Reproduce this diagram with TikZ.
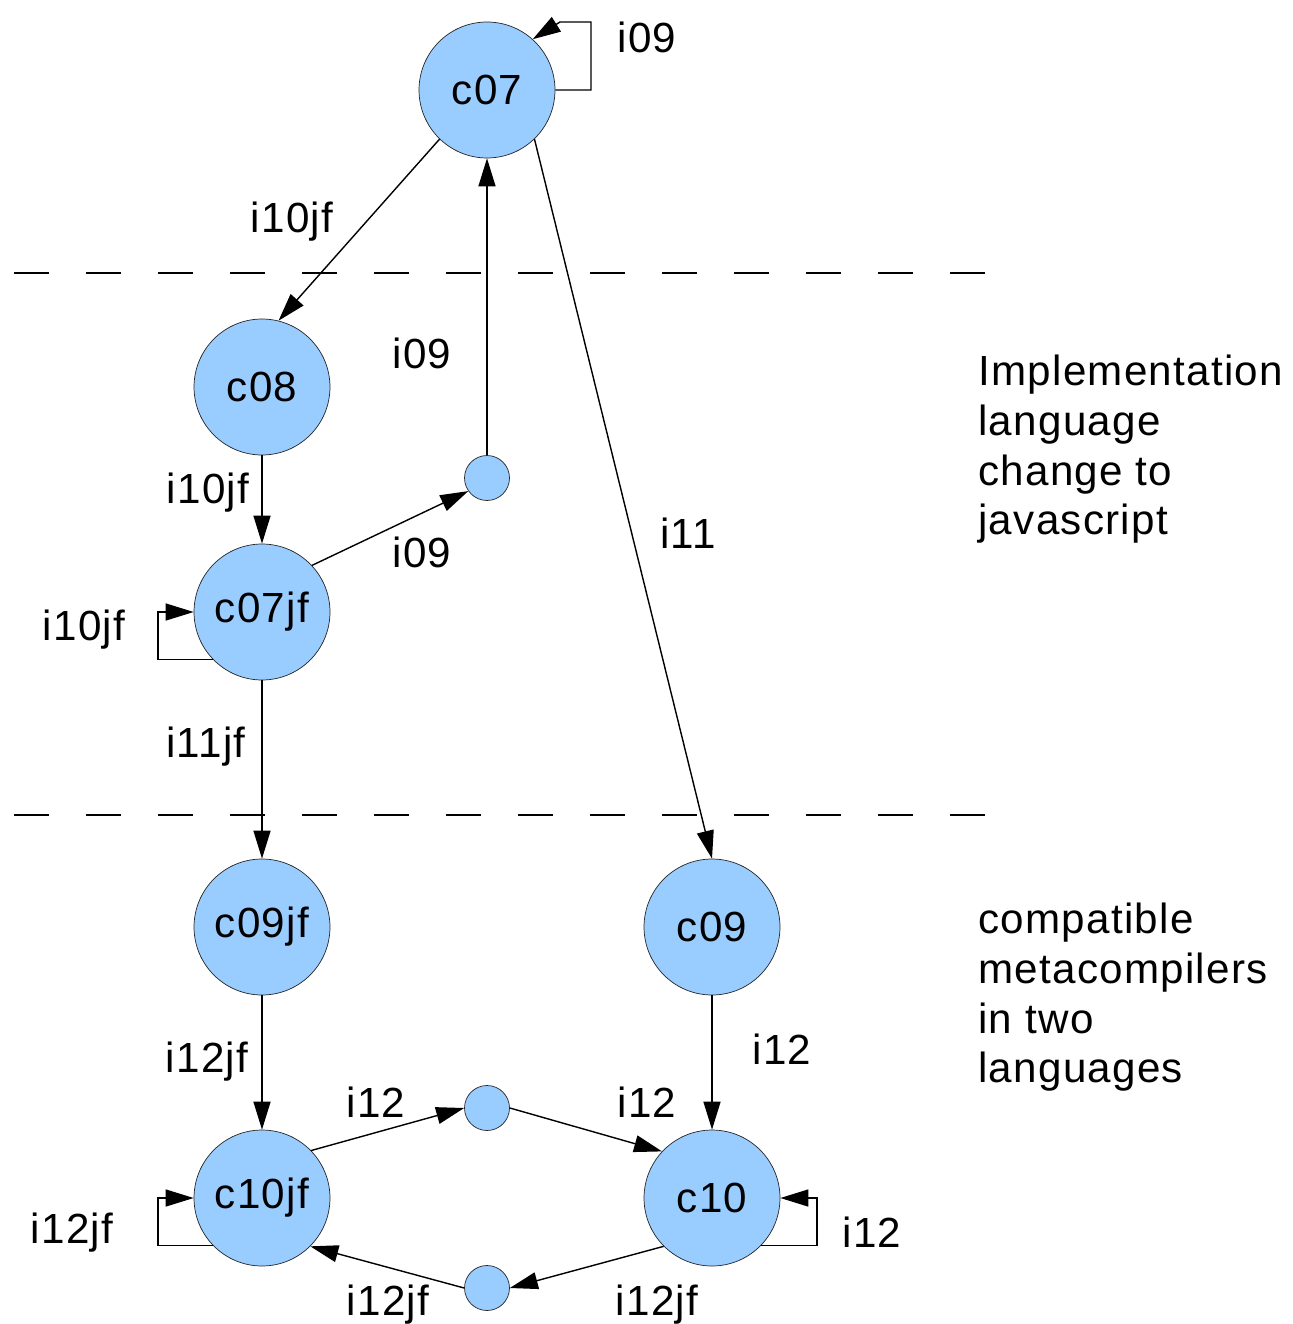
\documentclass[tikz,border=0pt]{standalone}
\usepackage{fontspec}
\setmainfont[LetterSpace=3]{Liberation Sans}
\usepackage{tikz}
\usetikzlibrary{arrows.meta}

\definecolor{stateblue}{HTML}{99CCFF}
\tikzset{
  state/.style={circle, draw=black!85, fill=stateblue, minimum size=2.72cm, inner sep=0pt},
  joint/.style={circle, draw=black!85, fill=stateblue, minimum size=0.9cm, inner sep=0pt},
  trans/.style={-{Triangle[length=0.56cm,width=0.34cm]}, line width=0.8pt},
  lbl/.style={anchor=base, inner sep=0pt},
  note/.style={anchor=north west, align=left, inner sep=0pt},
  sep/.style={dash pattern=on 0.7cm off 0.74cm, line width=0.9pt}
}

\begin{document}
\begin{tikzpicture}[x=0.02cm, y=-0.02cm, font=\fontsize{24}{28.2}\selectfont]
                      \useasboundingbox (0,0) rectangle (1293,1324);
                      \draw[sep] (14,273) -- (990,273);
                      \draw[sep] (14,815) -- (990,815);

                      \node[state] (c07) at (487,90) {c07};
                      \node[state] (c08) at (262,387) {c08};
                      \node[state] (c07jf) at (262,612) {c07jf};
                      \node[state] (c09jf) at (262,927) {c09jf};
                      \node[state] (c09) at (712,927) {c09};
                      \node[state] (c10jf) at (262,1198) {c10jf};
                      \node[state] (c10) at (712,1198) {c10};
                      \node[joint] (j09) at (487,478) {};
                      \node[joint] (j12a) at (487,1108) {};
                      \node[joint] (j12b) at (487,1288) {};

                      \draw[trans] (c07.east) -| (591,22) -- (560,22) -- (c07.48);
                      \draw[trans] (c07.226) -- (c08.76);
                      \draw[trans] (j09) -- (c07);
                      \draw[trans] (c07.314) -- (c09.north);
                      \draw[trans] (c08) -- (c07jf);
                      \draw[trans] (c07jf.43) -- (j09.215);
                      \draw[trans] (c07jf.224) -| (158,612) -- (c07jf.west);
                      \draw[trans] (c07jf) -- (c09jf);
                      \draw[trans] (c09jf) -- (c10jf);
                      \draw[trans] (c09) -- (c10);
                      \draw[trans] (c10jf.44) -- (j12a.west);
                      \draw[trans] (j12a.east) -- (c10.137);
                      \draw[trans] (c10jf.224) -| (158,1198) -- (c10jf.west);
                      \draw[trans] (c10.316) -| (817,1198) -- (c10.east);
                      \draw[trans] (c10.225) -- (j12b.east);
                      \draw[trans] (j12b.west) -- (c10jf.315);

                      \node[lbl] (t1) at (647,53) {i09};
                      \node[lbl] (t2) at (292,233) {i10jf};
                      \node[lbl] (t3) at (422,368) {i09};
                      \node[lbl] (t4) at (208,503) {i10jf};
                      \node[lbl] (t5) at (422,567) {i09};
                      \node[lbl] (t6) at (688,548) {i11};
                      \node[lbl] (t7) at (84,640) {i10jf};
                      \node[lbl] (t8) at (206,757) {i11jf};
                      \node[lbl] (t9) at (207,1072) {i12jf};
                      \node[lbl] (t10) at (782,1064) {i12};
                      \node[lbl] (t11) at (376,1117) {i12};
                      \node[lbl] (t12) at (647,1117) {i12};
                      \node[lbl] (t13) at (72,1243) {i12jf};
                      \node[lbl] (t14) at (872,1247) {i12};
                      \node[lbl] (t15) at (388,1315) {i12jf};
                      \node[lbl] (t16) at (657,1315) {i12jf};

                      \node[note] (n1) at (978,355) {Implementation\\language\\change to\\javascript};
                      \node[note] (n2) at (978,903) {compatible\\metacompilers\\in two\\languages};
\end{tikzpicture}
\end{document}
